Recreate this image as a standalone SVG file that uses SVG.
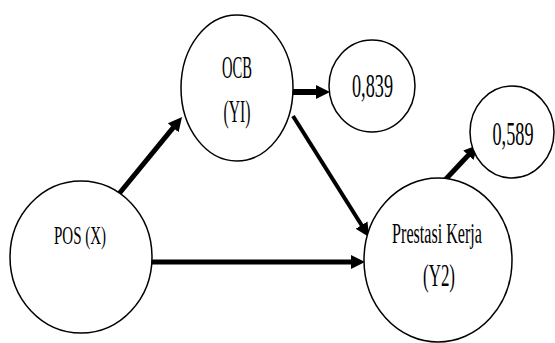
<svg xmlns="http://www.w3.org/2000/svg" width="555" height="343" viewBox="0 0 555 343">
<defs>
<style>
.n{fill:#fff;stroke:#000;stroke-width:1.5}
.t{font-family:"Liberation Serif","Times New Roman",serif;fill:#000;text-anchor:middle}
.c{stroke:#000;fill:none}
</style>
<marker id="ah" viewBox="0 0 14 14" refX="4" refY="7" markerWidth="14" markerHeight="14" markerUnits="userSpaceOnUse" orient="auto">
<path d="M0,0 L14,7 L0,14 z" fill="#000"/>
</marker>
</defs>
<rect width="555" height="343" fill="#fff"/>
<g id="connectors">
<line class="c" x1="118" y1="195" x2="175.7" y2="124.7" stroke-width="5" marker-end="url(#ah)"/>
<line class="c" x1="293" y1="92" x2="320" y2="92" stroke-width="6" marker-end="url(#ah)"/>
<line class="c" x1="293" y1="116" x2="363.7" y2="228.5" stroke-width="4" marker-end="url(#ah)"/>
<line class="c" x1="152" y1="262" x2="355" y2="262" stroke-width="5" marker-end="url(#ah)"/>
<line class="c" x1="445" y1="180" x2="471.1" y2="152.3" stroke-width="5" marker-end="url(#ah)"/>
</g>
<g id="ocb">
<ellipse class="n" cx="237" cy="88" rx="56" ry="73"/>
<text class="t" transform="translate(237,78) scale(0.456,1)" font-size="32">OCB</text>
<text class="t" transform="translate(237,122) scale(0.49,1)" font-size="32">(YI)</text>
</g>
<g id="r839">
<ellipse class="n" cx="372" cy="86" rx="43" ry="46"/>
<text class="t" transform="translate(372.5,97) scale(0.552,1)" font-size="33">0,839</text>
</g>
<g id="r589">
<ellipse class="n" cx="512" cy="132" rx="42" ry="46"/>
<text class="t" transform="translate(513,145) scale(0.536,1)" font-size="34">0,589</text>
</g>
<g id="pos">
<ellipse class="n" cx="81" cy="257" rx="71" ry="76"/>
<text class="t" transform="translate(80,244) scale(0.6,1)" font-size="25">POS (X)</text>
</g>
<g id="prestasi">
<ellipse class="n" cx="438" cy="260" rx="74" ry="82"/>
<text class="t" transform="translate(437,243) scale(0.537,1)" font-size="30">Prestasi Kerja</text>
<text class="t" transform="translate(439,286) scale(0.53,1)" font-size="32">(Y2)</text>
</g>
</svg>
